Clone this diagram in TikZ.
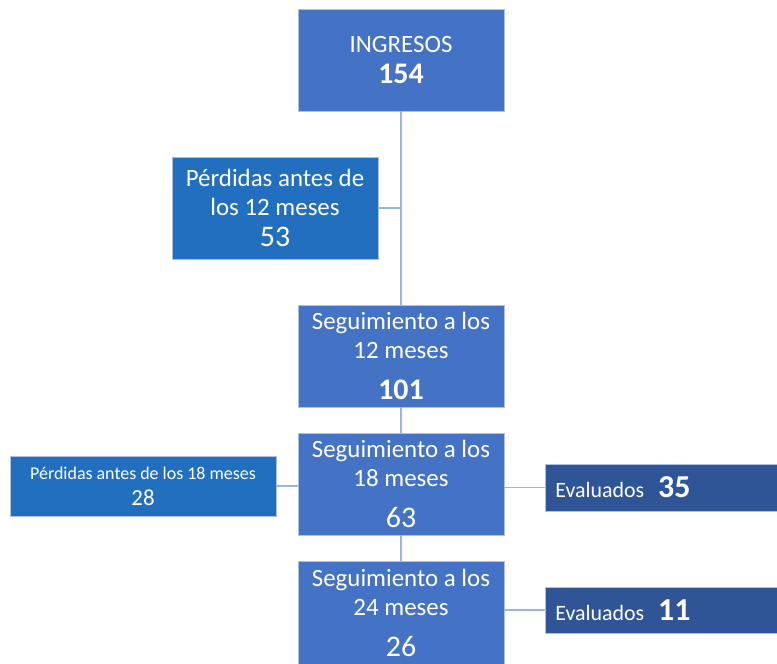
\documentclass[tikz,border=0pt]{standalone}
\usepackage{fontspec}
\setmainfont{Carlito}
\definecolor{azul}{HTML}{4472C4}
\definecolor{azulper}{HTML}{236FBF}
\definecolor{azuleva}{HTML}{2F5597}
\definecolor{linea}{HTML}{9DB4E0}
\begin{document}
\begin{tikzpicture}[x=1bp,y=-1bp,
		caja/.style={fill=azul, draw=azul!45, line width=0.6bp, text=white, align=center, inner sep=0pt,
			minimum width=206bp, minimum height=102bp, font=\fontsize{25}{29}\selectfont},
		perdida/.style={caja, fill=azulper},
		evaluado/.style={caja, fill=azuleva, anchor=west, align=left, text width=212bp,
			minimum width=232bp, minimum height=47bp, font=\fontsize{22}{26}\selectfont},
		union/.style={draw=linea, line width=1.6bp}]
		\clip (0,0) rectangle (777,664);
		\fill[white] (0,0) rectangle (777,664);
		\node[caja] (ing) at (401,60) {INGRESOS\\[3bp]{\fontsize{30}{29}\selectfont\bfseries 154}};
		\node[perdida] (per12) at (275,208) {P\'erdidas antes de\\los 12 meses\\[3bp]{\fontsize{30}{29}\selectfont 53}};
		\node[caja] (seg12) at (401,356) {Seguimiento a los\\12 meses\\[12bp]{\fontsize{30}{29}\selectfont\bfseries 101}};
		\node[caja] (seg18) at (401,484) {Seguimiento a los\\18 meses\\[12bp]{\fontsize{30}{29}\selectfont 63}};
		\node[perdida, minimum width=266bp, minimum height=60bp, font=\fontsize{18}{26}\selectfont] (per18) at (143,486)
			{P\'erdidas antes de los 18 meses\\{\fontsize{23}{26}\selectfont 28}};
		\node[evaluado] (ev35) at (545,487.5) {Evaluados\enspace\hspace{3bp}{\fontsize{32}{26}\selectfont\bfseries 35}};
		\node[caja, minimum height=104bp] (seg24) at (401,613) {Seguimiento a los\\24 meses\\[12bp]{\fontsize{30}{29}\selectfont 26}};
		\node[evaluado, minimum height=46bp] (ev11) at (545,610) {Evaluados\enspace\hspace{3bp}{\fontsize{32}{26}\selectfont\bfseries 11}};
		\draw[union] (ing) -- (seg12);
		\draw[union] (per12.east) -- (per12.east -| ing.south);
		\draw[union] (seg12) -- (seg18);
		\draw[union] (seg18) -- (seg24);
		\draw[union] (per18) -- (per18 -| seg18.west);
		\draw[union] (seg18.east |- ev35) -- (ev35);
		\draw[union] (seg24.east |- ev11) -- (ev11);
	\end{tikzpicture}
\end{document}
